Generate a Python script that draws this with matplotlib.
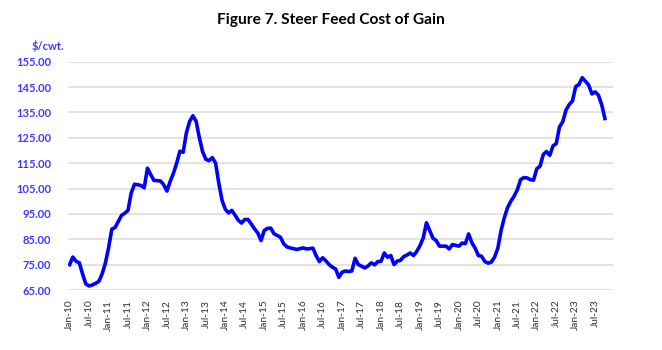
import matplotlib
matplotlib.use("Agg")
import matplotlib.pyplot as plt

# Monthly steer feed cost of gain, $/cwt., Jan-10 through Oct-23
months = ["Jan", "Feb", "Mar", "Apr", "May", "Jun",
          "Jul", "Aug", "Sep", "Oct", "Nov", "Dec"]
years = list(range(10, 24))
n_categories = 168  # axis runs through Dec-23

cost_of_gain = [
    75.0, 78.0, 76.3, 75.7, 71.3, 67.4, 66.6, 67.0, 67.6, 68.4, 71.3, 75.5,      # 2010
    81.5, 89.0, 89.6, 92.0, 94.4, 95.3, 96.4, 103.3, 106.7, 106.5, 106.2, 105.3, # 2011
    113.0, 110.5, 108.2, 108.1, 108.0, 106.5, 104.0, 107.8, 111.0, 115.0, 119.7, 119.3,  # 2012
    127.0, 131.5, 133.7, 131.5, 125.0, 119.5, 116.5, 116.0, 117.2, 115.0, 107.0, 100.3,  # 2013
    96.8, 95.4, 96.4, 94.5, 92.5, 91.4, 92.8, 92.8, 91.0, 89.1, 87.5, 84.5,      # 2014
    88.5, 89.3, 89.4, 87.2, 86.5, 85.8, 83.2, 82.0, 81.6, 81.3, 81.0, 81.3,      # 2015
    81.6, 81.2, 81.3, 81.5, 78.5, 76.2, 77.7, 76.5, 75.0, 74.0, 73.3, 70.0,      # 2016
    72.0, 72.5, 72.3, 72.5, 77.5, 75.0, 74.4, 73.7, 74.5, 75.7, 74.9, 76.2,      # 2017
    76.3, 79.6, 77.9, 78.6, 75.0, 76.4, 76.7, 78.2, 78.8, 79.6, 78.6, 80.2,      # 2018
    82.5, 85.5, 91.5, 88.5, 85.4, 84.5, 82.3, 82.3, 82.3, 81.2, 82.9, 82.6,      # 2019
    82.3, 83.5, 83.3, 87.1, 83.6, 81.5, 78.6, 78.3, 76.2, 75.6, 76.0, 78.0,      # 2020
    81.5, 88.5, 93.5, 97.5, 100.0, 102.0, 104.5, 108.5, 109.3, 109.2, 108.5, 108.3,  # 2021
    112.8, 113.8, 118.4, 119.6, 118.1, 121.8, 122.7, 129.3, 131.3, 135.9, 138.1, 139.5,  # 2022
    145.2, 146.0, 148.7, 147.3, 145.8, 142.3, 143.1, 141.8, 138.1, 132.6,       # 2023
]

y_ticks = [65, 75, 85, 95, 105, 115, 125, 135, 145, 155]

title = "Figure 7. Steer Feed Cost of Gain"
unit_label = "$/cwt."


def main():
    plt.rcParams["font.family"] = ["Lato", "DejaVu Sans"]

    fig = plt.figure(figsize=(6.62, 3.5), dpi=100)
    ax = fig.add_axes([0.1027, 0.1714, 0.8233, 0.6523])

    ax.plot(range(len(cost_of_gain)), cost_of_gain, color="#0000ff",
            linewidth=2.6, solid_joinstyle="round", zorder=3)

    ax.set_ylim(65, 155)
    ax.set_xlim(-0.5, n_categories - 0.5)
    ax.set_yticks(y_ticks)
    ax.set_yticklabels([f"{v:.2f}" for v in y_ticks], color="#3a3aff",
                       fontweight="bold", fontsize=8)

    # tick every six months
    tick_pos = []
    tick_lab = []
    for k, yr in enumerate(years):
        for m in (0, 6):
            idx = k * 12 + m
            if idx < len(cost_of_gain):
                tick_pos.append(idx)
                tick_lab.append(f"{months[m]}-{yr}")
    ax.set_xticks(tick_pos)
    ax.set_xticklabels(tick_lab, rotation=90, fontsize=7.3, color="#303030")

    ax.tick_params(axis="both", length=0)
    ax.tick_params(axis="y", pad=12)
    ax.tick_params(axis="x", pad=7)
    ax.grid(axis="y", color="#e0e0e0", linewidth=1.3, zorder=0)
    for s in ax.spines.values():
        s.set_visible(False)

    fig.text(0.5, 0.943, title, ha="center", va="center",
             fontsize=11.2, fontweight="bold", color="black")
    fig.text(0.0725, 0.868, unit_label, ha="center", va="center",
             fontsize=8, fontweight="bold", color="#3a3aff")

    fig.savefig("out.png", dpi=100, facecolor="white")
    plt.close(fig)


if __name__ == "__main__":
    main()
